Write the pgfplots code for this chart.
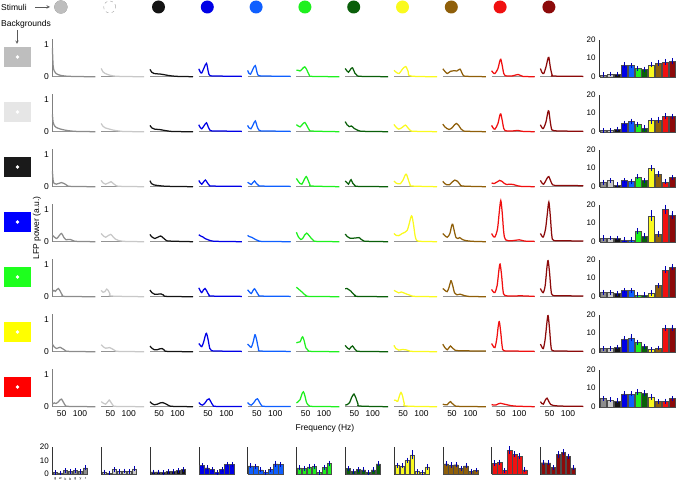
\documentclass[border=0pt]{standalone}
\usepackage{pgfplots}
\pgfplotsset{compat=1.18}
\usepackage{fontspec}
\setmainfont{Liberation Sans}

\definecolor{c0}{HTML}{8C8C8C}
\definecolor{c1}{HTML}{C8C8C8}
\definecolor{c2}{HTML}{141414}
\definecolor{c3}{HTML}{0000E6}
\definecolor{c4}{HTML}{0F5FFF}
\definecolor{c5}{HTML}{1EF01E}
\definecolor{c6}{HTML}{0A5F0A}
\definecolor{c7}{HTML}{FAFA1E}
\definecolor{c8}{HTML}{8F5F0A}
\definecolor{c9}{HTML}{F01010}
\definecolor{c10}{HTML}{8C0A0A}
\definecolor{bg0}{HTML}{BEBEBE}
\definecolor{bg1}{HTML}{E6E6E6}
\definecolor{bg2}{HTML}{1A1A1A}
\definecolor{bg3}{HTML}{0000FF}
\definecolor{bg4}{HTML}{1EFF1E}
\definecolor{bg5}{HTML}{FFFF00}
\definecolor{bg6}{HTML}{FF0000}

\pgfplotsset{
  /pgf/number format/assume math mode=true,
  cell/.style={scale only axis, width=43pt, height=38pt,
    xmin=25, xmax=142, ymin=0, ymax=1.2, clip=false,
    axis x line*=bottom, axis y line*=left,
    x axis line style={-, gray!85, line width=0.9pt},
    y axis line style={-, draw=none},
    xtick=\empty, ytick=\empty, major tick length=0pt,
    anchor=south west,
    tick label style={font=\fontsize{8.5}{9}\selectfont}},
  firstcol/.style={ytick={0,1},
    y axis line style={draw=gray, line width=0.8pt}},
  lastrow/.style={xtick={50,100}},
  rchart/.style={scale only axis, width=77pt, height=37pt,
    xmin=-0.65, xmax=10.6, ymin=0, ymax=20, clip=false,
    axis x line*=bottom, axis y line*=left,
    axis line style={-, black!80}, xtick=\empty, ytick={0,10,20},
    major tick length=0pt, anchor=south west,
    tick label style={font=\fontsize{8}{9}\selectfont}},
  bchart/.style={scale only axis, width=36pt, height=27.3pt,
    xmin=0.4, xmax=7.6, ymin=0, ymax=20, clip=false,
    axis x line*=bottom, axis y line*=left,
    axis line style={-, black!80}, xtick=\empty, ytick=\empty,
    major tick length=0pt, anchor=south west,
    tick label style={font=\fontsize{8}{9}\selectfont}},
  errs/.style={error bars/y dir=both, error bars/y explicit,
    error bars/error bar style={blue!70!black, line width=0.5pt},
    error bars/error mark options={draw=none}},
  rbar/.style={ybar, bar width=6pt, bar shift=0pt, draw=black!70, line width=0.3pt, errs},
  bbar/.style={ybar, bar width=4.4pt, bar shift=0pt, draw=black!70, line width=0.3pt, errs},
}

% line cell: [opts]{col}{row}{coords}
\newcommand{\cell}[4][]{%
  \begin{axis}[cell, at={({52.4pt+48.8pt*#2},{411.3pt-55pt*#3})}, #1]
    \addplot[c#2, line width=1.25pt, smooth, tension=0.5] coordinates {#4};
  \end{axis}}
% one bar of a right chart: {stimulus}{value}{error}
\newcommand{\rb}[3]{\addplot[rbar, fill=c#1] coordinates {(#1,#2) +- (0,#3)};}

\begin{document}
\begin{tikzpicture}[x=1pt,y=1pt]
\useasboundingbox (0,0) rectangle (678,488);

% header
\node[anchor=west, font=\fontsize{8.5}{9}\selectfont, inner sep=0] at (1,481) {Stimuli};
\draw[-stealth, gray!70!black, line width=0.6pt] (35,481) -- (50,481);
\node[anchor=west, font=\fontsize{8.5}{9}\selectfont, inner sep=0] at (1,464) {Backgrounds};
\draw[-stealth, gray!70!black, line width=0.6pt] (17,458) -- (17,444);
\foreach \c in {0,2,3,4,5,6,7,8,9,10}{
  \fill[c\c] ({60.9+48.8*\c},481) circle (6.5);
}
\fill[c0] (60.9,481) circle (6.5);
\fill[bg0] (60.9,481) circle (6.5);
\draw[gray!70, dashed, fill=white] ({60.9+48.8},481) circle (6);

% background squares
\foreach \r in {0,...,6}{
  \fill[bg\r] (4,{421-55*\r}) rectangle (31,{441-55*\r});
  \fill[white] (17.5,{431-55*\r}) circle (1.8);
}

\node[rotate=90, font=\fontsize{8.5}{9}\selectfont] at (37,260) {LFP power (a.u.)};
\node[font=\fontsize{8.5}{9}\selectfont] at (325,60) {Frequency (Hz)};

% ---- row 0: grey background
\cell[firstcol]{0}{0}{(25,.9)(27,.35)(30,.18)(35,.1)(45,.05)(60,.02)(90,.005)(142,0)}
\cell{1}{0}{(25,.26)(30,.15)(36,.1)(45,.06)(60,.02)(90,.005)(142,0)}
\cell{2}{0}{(25,.23)(30,.14)(36,.1)(45,.09)(55,.08)(65,.06)(80,.03)(100,.01)(142,0)}
\cell{3}{0}{(25,.25)(29,.15)(33,.12)(40,.3)(46,.42)(51,.15)(56,.03)(80,.02)(142,.01)}
\cell{4}{0}{(25,.2)(29,.1)(33,.08)(40,.25)(46,.35)(51,.12)(56,.03)(80,.02)(142,.01)}
\cell{5}{0}{(25,.2)(30,.2)(35,.18)(42,.26)(48,.31)(54,.2)(60,.05)(68,.01)(142,0)}
\cell{6}{0}{(25,.26)(30,.18)(34,.14)(40,.24)(45,.28)(51,.12)(58,.03)(70,.01)(142,0)}
\cell{7}{0}{(25,.2)(31,.14)(39,.1)(48,.24)(57,.32)(64,.15)(71,.02)(142,0)}
\cell{8}{0}{(25,.25)(30,.18)(37,.1)(46,.17)(55,.19)(63,.18)(72,.24)(77,.12)(83,.02)(100,.01)(142,0)}
\cell{9}{0}{(25,.19)(29,.13)(34,.1)(42,.25)(47,.48)(50,.55)(54,.35)(58,.1)(62,.03)(80,.02)(97,.07)(110,.01)(142,0)}
\cell{10}{0}{(25,.26)(29,.14)(34,.1)(40,.3)(45,.55)(48,.61)(52,.3)(57,.05)(62,.02)(142,.01)}

% ---- row 1: light grey background
\cell[firstcol]{0}{1}{(25,.55)(27,.3)(31,.18)(36,.13)(45,.09)(55,.06)(70,.03)(90,.01)(142,0)}
\cell{1}{1}{(25,.26)(30,.17)(36,.12)(45,.09)(58,.05)(75,.02)(90,.005)(142,0)}
\cell{2}{1}{(25,.2)(30,.12)(38,.08)(50,.07)(60,.05)(75,.02)(90,.005)(142,0)}
\cell{3}{1}{(25,.22)(29,.13)(33,.09)(40,.2)(46,.28)(51,.14)(56,.04)(62,.02)(90,.02)(142,.01)}
\cell{4}{1}{(25,.2)(29,.12)(34,.09)(40,.22)(46,.34)(51,.16)(56,.05)(62,.02)(90,.02)(142,.01)}
\cell{5}{1}{(25,.22)(30,.18)(35,.15)(42,.24)(48,.29)(54,.18)(60,.06)(68,.02)(142,0)}
\cell{6}{1}{(25,.32)(30,.22)(36,.16)(42,.18)(50,.1)(58,.05)(65,.02)(80,.01)(142,0)}
\cell{7}{1}{(25,.23)(30,.15)(38,.08)(48,.14)(56,.21)(63,.12)(72,.02)(90,.01)(142,0)}
\cell{8}{1}{(25,.24)(30,.16)(36,.1)(42,.07)(50,.12)(57,.22)(62,.26)(68,.2)(75,.08)(82,.02)(100,.01)(142,0)}
\cell{9}{1}{(25,.2)(29,.12)(34,.08)(42,.25)(47,.5)(50,.56)(54,.35)(58,.1)(62,.03)(80,.02)(96,.04)(110,.01)(142,0)}
\cell{10}{1}{(25,.22)(29,.13)(33,.1)(40,.3)(45,.6)(48,.65)(52,.3)(56,.06)(62,.03)(90,.02)(142,.01)}

% ---- row 2: black background
\cell[firstcol]{0}{2}{(25,.5)(27,.2)(30,.1)(36,.08)(44,.11)(50,.13)(57,.1)(65,.04)(75,.01)(142,0)}
\cell{1}{2}{(25,.2)(30,.12)(37,.08)(45,.12)(52,.16)(58,.1)(66,.03)(80,.01)(142,0)}
\cell{2}{2}{(25,.19)(29,.1)(35,.06)(45,.04)(60,.02)(80,.01)(142,0)}
\cell{3}{2}{(25,.2)(29,.12)(33,.08)(38,.15)(43,.21)(48,.13)(54,.04)(62,.02)(142,.01)}
\cell{4}{2}{(25,.14)(30,.1)(35,.07)(40,.14)(44,.18)(49,.1)(55,.04)(62,.02)(142,.01)}
\cell{5}{2}{(25,.26)(30,.17)(35,.1)(40,.08)(47,.24)(52,.32)(57,.2)(62,.06)(68,.02)(142,0)}
\cell{6}{2}{(25,.18)(30,.12)(34,.08)(37,.15)(41,.22)(46,.1)(52,.03)(60,.01)(142,0)}
\cell{7}{2}{(25,.18)(30,.12)(36,.09)(42,.09)(50,.22)(55,.36)(59,.39)(64,.22)(69,.06)(75,.02)(142,0)}
\cell{8}{2}{(25,.17)(30,.1)(36,.06)(43,.06)(51,.15)(58,.21)(65,.17)(72,.07)(80,.02)(142,0)}
\cell{9}{2}{(25,.12)(32,.1)(40,.15)(47,.2)(53,.17)(60,.1)(66,.07)(75,.08)(84,.07)(95,.03)(105,.01)(142,0)}
\cell{10}{2}{(25,.2)(29,.12)(34,.08)(40,.2)(45,.3)(48,.32)(53,.18)(58,.06)(65,.04)(100,.04)(142,.03)}

% ---- row 3: blue background
\cell[firstcol]{0}{3}{(25,.21)(30,.15)(37,.1)(44,.2)(50,.26)(56,.14)(62,.06)(68,.07)(74,.07)(82,.03)(92,.01)(142,0)}
\cell{1}{3}{(25,.26)(31,.18)(37,.14)(45,.2)(51,.23)(57,.16)(64,.08)(72,.04)(90,.01)(142,0)}
\cell{2}{3}{(25,.23)(30,.15)(38,.1)(46,.14)(54,.18)(61,.12)(68,.05)(78,.02)(142,0)}
\cell{3}{3}{(25,.22)(30,.18)(36,.15)(42,.1)(48,.07)(55,.04)(62,.02)(80,.01)(142,0)}
\cell{4}{3}{(25,.2)(30,.16)(36,.14)(42,.1)(48,.06)(55,.03)(62,.01)(142,0)}
\cell{5}{3}{(25,.3)(30,.16)(37,.07)(43,.12)(48,.22)(53,.27)(59,.2)(66,.1)(72,.03)(80,.01)(142,0)}
\cell{6}{3}{(25,.24)(31,.16)(38,.11)(46,.11)(55,.12)(63,.13)(69,.07)(76,.02)(90,.01)(142,0)}
\cell{7}{3}{(25,.26)(31,.2)(38,.19)(46,.25)(55,.3)(61,.36)(66,.55)(71,.78)(74,.8)(78,.55)(83,.15)(88,.03)(100,.01)(142,0)}
\cell{8}{3}{(25,.26)(30,.2)(37,.14)(44,.25)(49,.5)(52,.55)(56,.35)(61,.13)(66,.1)(71,.13)(78,.07)(90,.03)(110,.01)(142,0)}
\cell{9}{3}{(25,.26)(29,.18)(34,.15)(41,.4)(46,.95)(50,1.3)(54,.9)(58,.3)(63,.06)(80,.03)(100,.06)(115,.02)(142,.01)}
\cell{10}{3}{(25,.26)(29,.18)(33,.15)(39,.4)(44,.9)(48,1.25)(52,.8)(56,.2)(61,.04)(90,.03)(142,.02)}

% ---- row 4: green background
\cell[firstcol]{0}{4}{(25,.16)(29,.2)(33,.17)(37,.22)(41,.26)(46,.18)(52,.05)(58,.01)(142,0)}
\cell{1}{4}{(25,.2)(30,.14)(35,.16)(40,.24)(44,.2)(49,.08)(54,.02)(142,0)}
\cell{2}{4}{(25,.21)(30,.13)(37,.08)(47,.08)(55,.09)(62,.05)(70,.01)(142,0)}
\cell{3}{4}{(25,.28)(29,.19)(33,.13)(38,.22)(42,.26)(47,.17)(53,.05)(60,.02)(142,.01)}
\cell{4}{4}{(25,.22)(30,.15)(35,.1)(40,.2)(44,.25)(49,.16)(55,.05)(62,.02)(142,.01)}
\cell{5}{4}{(25,.3)(30,.25)(35,.2)(40,.15)(46,.08)(52,.03)(58,.01)(142,0)}
\cell{6}{4}{(25,.25)(30,.26)(35,.22)(40,.18)(46,.1)(52,.04)(58,.01)(142,0)}
\cell{7}{4}{(25,.2)(31,.16)(38,.12)(45,.15)(52,.12)(60,.08)(70,.04)(82,.01)(142,0)}
\cell{8}{4}{(25,.26)(31,.2)(37,.16)(42,.3)(46,.47)(48,.5)(52,.35)(57,.12)(63,.06)(72,.08)(80,.05)(95,.01)(142,0)}
\cell{9}{4}{(25,.23)(29,.16)(34,.13)(40,.35)(45,.85)(48,1.03)(52,.7)(56,.2)(61,.04)(90,.02)(100,.03)(142,.01)}
\cell{10}{4}{(25,.26)(29,.17)(33,.13)(38,.35)(43,.95)(46,1.14)(50,.75)(54,.2)(59,.04)(90,.03)(142,.02)}

% ---- row 5: yellow background
\cell[firstcol]{0}{5}{(25,.24)(30,.15)(36,.1)(41,.12)(46,.14)(52,.1)(60,.04)(70,.01)(142,0)}
\cell{1}{5}{(25,.22)(31,.15)(37,.11)(43,.12)(48,.13)(55,.09)(62,.04)(72,.01)(142,0)}
\cell{2}{5}{(25,.18)(30,.11)(37,.06)(44,.06)(52,.09)(58,.1)(64,.05)(72,.01)(142,0)}
\cell{3}{5}{(25,.26)(29,.2)(33,.16)(38,.3)(43,.52)(46,.58)(50,.4)(55,.1)(60,.03)(80,.02)(142,.01)}
\cell{4}{5}{(25,.24)(30,.18)(35,.14)(40,.3)(44,.5)(46,.53)(50,.35)(55,.08)(62,.02)(142,.01)}
\cell{5}{5}{(25,.28)(30,.3)(35,.31)(39,.42)(42,.47)(46,.35)(51,.12)(57,.04)(65,.01)(142,0)}
\cell{6}{5}{(25,.2)(30,.13)(36,.08)(41,.15)(45,.18)(50,.1)(56,.03)(65,.01)(142,0)}
\cell{7}{5}{(25,.2)(30,.1)(38,.05)(48,.07)(57,.06)(66,.03)(75,.01)(142,0)}
\cell{8}{5}{(25,.24)(30,.14)(37,.06)(42,.13)(46,.18)(51,.12)(58,.05)(70,.03)(90,.03)(110,.02)(142,.02)}
\cell{9}{5}{(25,.26)(29,.18)(34,.13)(39,.4)(43,.8)(46,.95)(50,.6)(54,.15)(59,.03)(90,.02)(142,.01)}
\cell{10}{5}{(25,.24)(29,.15)(33,.1)(38,.4)(43,.95)(46,1.14)(50,.7)(54,.15)(59,.03)(90,.02)(142,.01)}

% ---- row 6: red background
\cell[firstcol,lastrow]{0}{6}{(25,.08)(30,.12)(35,.1)(41,.15)(46,.22)(50,.24)(55,.14)(61,.03)(70,.01)(142,0)}
\cell[lastrow]{1}{6}{(25,.16)(31,.11)(37,.08)(43,.16)(47,.21)(52,.13)(58,.03)(66,.01)(142,0)}
\cell[lastrow]{2}{6}{(25,.16)(30,.1)(37,.06)(45,.08)(53,.12)(60,.13)(68,.09)(77,.03)(88,.01)(142,0)}
\cell[lastrow]{3}{6}{(25,.13)(30,.07)(35,.05)(42,.12)(48,.22)(53,.25)(58,.15)(64,.04)(72,.01)(142,.01)}
\cell[lastrow]{4}{6}{(25,.13)(30,.07)(35,.05)(42,.13)(48,.23)(52,.25)(57,.15)(63,.04)(72,.01)(142,.01)}
\cell[lastrow]{5}{6}{(25,.12)(30,.16)(35,.22)(40,.4)(44,.47)(48,.35)(53,.12)(60,.03)(68,.01)(142,0)}
\cell[lastrow]{6}{6}{(25,.05)(31,.07)(37,.13)(42,.28)(47,.38)(49,.4)(54,.28)(60,.08)(66,.02)(142,0)}
\cell[lastrow]{7}{6}{(25,.21)(30,.2)(35,.17)(40,.35)(44,.45)(48,.35)(53,.1)(59,.02)(142,0)}
\cell[lastrow]{8}{6}{(25,.08)(31,.06)(37,.06)(42,.13)(46,.16)(51,.1)(58,.03)(70,.01)(142,0)}
\cell[lastrow]{9}{6}{(25,.07)(30,.05)(36,.05)(43,.09)(49,.11)(56,.09)(64,.07)(75,.04)(88,.02)(110,.01)(142,0)}
\cell[lastrow]{10}{6}{(25,.16)(29,.1)(33,.08)(38,.2)(43,.27)(48,.16)(53,.07)(60,.04)(80,.02)(142,.01)}

% ---- right column: mean power per stimulus, one chart per background
\begin{axis}[rchart, at={(599pt,411.3pt)}]
\rb{0}{1}{.2}\rb{1}{1.5}{.2}\rb{2}{1.5}{.2}\rb{3}{6.2}{.4}\rb{4}{6}{.4}\rb{5}{4.5}{.3}
\rb{6}{4}{.3}\rb{7}{6.5}{.4}\rb{8}{7.5}{.5}\rb{9}{8}{.5}\rb{10}{8.3}{.5}
\end{axis}
\begin{axis}[rchart, at={(599pt,356.3pt)}]
\rb{0}{.8}{.2}\rb{1}{.8}{.2}\rb{2}{1.5}{.2}\rb{3}{4.5}{.4}\rb{4}{5.5}{.5}\rb{5}{4}{.3}
\rb{6}{2}{.3}\rb{7}{6}{.5}\rb{8}{6.5}{.5}\rb{9}{8.5}{.6}\rb{10}{8.2}{.5}
\end{axis}
\begin{axis}[rchart, at={(599pt,301.3pt)}]
\rb{0}{2.5}{.3}\rb{1}{3.3}{.3}\rb{2}{1}{.2}\rb{3}{3.3}{.3}\rb{4}{3}{.3}\rb{5}{5.3}{.3}
\rb{6}{3.3}{.3}\rb{7}{10}{.6}\rb{8}{6.8}{.5}\rb{9}{2.6}{.3}\rb{10}{5}{.3}
\end{axis}
\begin{axis}[rchart, at={(599pt,246.3pt)}]
\rb{0}{2}{.3}\rb{1}{2}{.2}\rb{2}{2}{.2}\rb{3}{1}{.2}\rb{4}{1}{.2}\rb{5}{5.7}{.4}
\rb{6}{3}{.4}\rb{7}{14}{1.8}\rb{8}{4}{.5}\rb{9}{17.5}{1.5}\rb{10}{14.5}{1}
\end{axis}
\begin{axis}[rchart, at={(599pt,191.3pt)}]
\rb{0}{2.5}{.3}\rb{1}{2.2}{.3}\rb{2}{1.8}{.2}\rb{3}{3.3}{.3}\rb{4}{3.3}{.3}\rb{5}{1}{.2}
\rb{6}{1}{.2}\rb{7}{2}{.3}\rb{8}{6}{.4}\rb{9}{14.5}{.8}\rb{10}{16}{.7}
\end{axis}
\begin{axis}[rchart, at={(599pt,136.3pt)}]
\rb{0}{1.8}{.2}\rb{1}{1.8}{.2}\rb{2}{2.5}{.2}\rb{3}{7}{.4}\rb{4}{7.5}{.8}\rb{5}{5}{.4}
\rb{6}{3}{.3}\rb{7}{1.2}{.2}\rb{8}{2}{.2}\rb{9}{13}{.6}\rb{10}{13}{.5}
\end{axis}
\begin{axis}[rchart, at={(599pt,81.3pt)}]
\rb{0}{4.5}{.3}\rb{1}{3.8}{.3}\rb{2}{3.2}{.2}\rb{3}{7}{.4}\rb{4}{7}{.4}\rb{5}{8}{.4}
\rb{6}{7.5}{.4}\rb{7}{5.2}{.5}\rb{8}{2.8}{.2}\rb{9}{3}{.3}\rb{10}{4.5}{.3}
\end{axis}

% ---- bottom row: mean power per background, one chart per stimulus
\begin{axis}[bchart, at={(52.4pt,14pt)}, ytick={0,10,20}, xtick={1,...,7},
  xticklabels={g,w,k,b,g,y,r}, xticklabel style={font=\fontsize{3.5}{4}\selectfont}]
\addplot[bbar, fill=c0] coordinates {(1,1) +- (0,.2) (2,.8) +- (0,.2) (3,2.5) +- (0,.3) (4,2) +- (0,.3) (5,2.5) +- (0,.3) (6,1.8) +- (0,.2) (7,4.5) +- (0,.3)};
\end{axis}
\begin{axis}[bchart, at={(101.2pt,14pt)}]
\addplot[bbar, fill=c1] coordinates {(1,1.5) +- (0,.2) (2,.8) +- (0,.2) (3,3.3) +- (0,.3) (4,2) +- (0,.2) (5,2.2) +- (0,.3) (6,1.8) +- (0,.2) (7,3.8) +- (0,.3)};
\end{axis}
\begin{axis}[bchart, at={(150pt,14pt)}]
\addplot[bbar, fill=c2] coordinates {(1,1.5) +- (0,.2) (2,1.5) +- (0,.2) (3,1) +- (0,.2) (4,2) +- (0,.2) (5,1.8) +- (0,.2) (6,2.5) +- (0,.2) (7,3.2) +- (0,.2)};
\end{axis}
\begin{axis}[bchart, at={(198.8pt,14pt)}]
\addplot[bbar, fill=c3] coordinates {(1,6.2) +- (0,.4) (2,4.5) +- (0,.4) (3,3.3) +- (0,.3) (4,1) +- (0,.2) (5,3.3) +- (0,.3) (6,7) +- (0,.4) (7,7) +- (0,.4)};
\end{axis}
\begin{axis}[bchart, at={(247.6pt,14pt)}]
\addplot[bbar, fill=c4] coordinates {(1,6) +- (0,.4) (2,5.5) +- (0,.5) (3,3) +- (0,.3) (4,1) +- (0,.2) (5,3.3) +- (0,.3) (6,7.5) +- (0,.8) (7,7) +- (0,.4)};
\end{axis}
\begin{axis}[bchart, at={(296.4pt,14pt)}]
\addplot[bbar, fill=c5] coordinates {(1,4.5) +- (0,.3) (2,4) +- (0,.3) (3,5.3) +- (0,.3) (4,5.7) +- (0,.4) (5,1) +- (0,.2) (6,5) +- (0,.4) (7,8) +- (0,.4)};
\end{axis}
\begin{axis}[bchart, at={(345.2pt,14pt)}]
\addplot[bbar, fill=c6] coordinates {(1,4) +- (0,.3) (2,2) +- (0,.3) (3,3.3) +- (0,.3) (4,3) +- (0,.4) (5,1) +- (0,.2) (6,3) +- (0,.3) (7,7.5) +- (0,.4)};
\end{axis}
\begin{axis}[bchart, at={(394pt,14pt)}]
\addplot[bbar, fill=c7] coordinates {(1,6.5) +- (0,.4) (2,6) +- (0,.5) (3,10) +- (0,.6) (4,14) +- (0,1.8) (5,2) +- (0,.3) (6,1.2) +- (0,.2) (7,5.2) +- (0,.5)};
\end{axis}
\begin{axis}[bchart, at={(442.8pt,14pt)}]
\addplot[bbar, fill=c8] coordinates {(1,7.5) +- (0,.5) (2,6.5) +- (0,.5) (3,6.8) +- (0,.5) (4,4) +- (0,.5) (5,6) +- (0,.4) (6,2) +- (0,.2) (7,2.8) +- (0,.2)};
\end{axis}
\begin{axis}[bchart, at={(491.6pt,14pt)}]
\addplot[bbar, fill=c9] coordinates {(1,8) +- (0,.5) (2,8.5) +- (0,.6) (3,2.6) +- (0,.3) (4,17.5) +- (0,1.5) (5,14.5) +- (0,.8) (6,13) +- (0,.6) (7,3) +- (0,.3)};
\end{axis}
\begin{axis}[bchart, at={(540.4pt,14pt)}]
\addplot[bbar, fill=c10] coordinates {(1,8.3) +- (0,.5) (2,8.2) +- (0,.5) (3,5) +- (0,.3) (4,14.5) +- (0,1) (5,16) +- (0,.7) (6,13) +- (0,.5) (7,4.5) +- (0,.3)};
\end{axis}
\end{tikzpicture}
\end{document}
